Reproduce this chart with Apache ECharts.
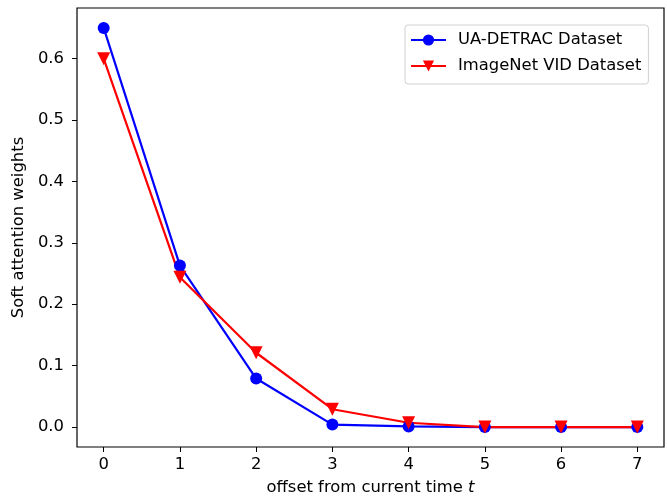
<!DOCTYPE html>
<html>
<head>
<meta charset="utf-8">
<script src="https://cdn.jsdelivr.net/npm/echarts@6/dist/echarts.min.js"></script>
<style>
  html, body { margin: 0; padding: 0; background: #fff; }
  #chart { width: 667px; height: 496px; }
</style>
</head>
<body>
<div id="chart"></div>
<script>
  // offsets from the current frame
  const offsets = [0, 1, 2, 3, 4, 5, 6, 7]
  const uaDetrac = [0.65, 0.263, 0.079, 0.004, 0.001, 0.0, 0.0, 0.0]
  const imagenetVid = [0.60, 0.244, 0.121, 0.029, 0.007, 0.0, 0.0, 0.0]
  const yTicks = [0, 0.1, 0.2, 0.3, 0.4, 0.5, 0.6]

  const font = 'DejaVu Sans'
  const fs = 16.4
  const pair = (ys) => offsets.map((x, i) => [x, ys[i]])

  const chart = echarts.init(document.getElementById('chart'))
  chart.setOption({
    animation: false,
    textStyle: { fontFamily: font },
    grid: {
      left: 77, right: 3, top: 8, bottom: 49,
      outerBoundsMode: 'none',
      show: true, borderColor: '#000', borderWidth: 1.2
    },
    legend: {
      left: 405, top: 25,
      orient: 'vertical',
      itemWidth: 35, itemHeight: 14, itemGap: 10,
      padding: [7, 7, 10, 5],
      borderColor: '#d0d0d0', borderWidth: 1, borderRadius: 3,
      textStyle: { fontFamily: font, fontSize: fs, color: '#000', padding: [0, 0, 0, 7] },
      data: ['UA-DETRAC Dataset', 'ImageNet VID Dataset']
    },
    xAxis: {
      type: 'value',
      min: -0.35, max: 7.35,
      name: '{a|offset from current time }{b|t}',
      nameLocation: 'middle',
      nameGap: 33,
      nameTextStyle: {
        rich: {
          a: { fontFamily: font, fontSize: fs, color: '#000' },
          b: { fontFamily: font, fontSize: fs, color: '#000', fontStyle: 'italic' }
        }
      },
      axisLine: { show: false, onZero: false },
      splitLine: { show: false },
      axisTick: { length: 5, lineStyle: { color: '#000' }, customValues: offsets },
      axisLabel: { color: '#000', fontSize: fs, margin: 10, customValues: offsets }
    },
    yAxis: {
      type: 'value',
      min: -0.0325, max: 0.6825,
      name: 'Soft attention weights',
      nameLocation: 'middle',
      nameGap: 45,
      nameTextStyle: { fontFamily: font, fontSize: fs, color: '#000' },
      axisLine: { show: false, onZero: false },
      splitLine: { show: false },
      axisTick: { length: 5, lineStyle: { color: '#000' }, customValues: yTicks },
      axisLabel: {
        color: '#000', fontSize: fs, margin: 13, customValues: yTicks,
        formatter: (v) => v.toFixed(1)
      }
    },
    series: [{
      name: 'UA-DETRAC Dataset',
      type: 'line',
      data: pair(uaDetrac),
      symbol: 'circle',
      symbolSize: 12,
      lineStyle: { color: '#0000ff', width: 2.2 },
      itemStyle: { color: '#0000ff' }
    }, {
      name: 'ImageNet VID Dataset',
      type: 'line',
      data: pair(imagenetVid),
      symbol: 'triangle',
      symbolRotate: 180,
      symbolSize: 13,
      lineStyle: { color: '#ff0000', width: 2.2 },
      itemStyle: { color: '#ff0000' }
    }]
  })
</script>
</body>
</html>
